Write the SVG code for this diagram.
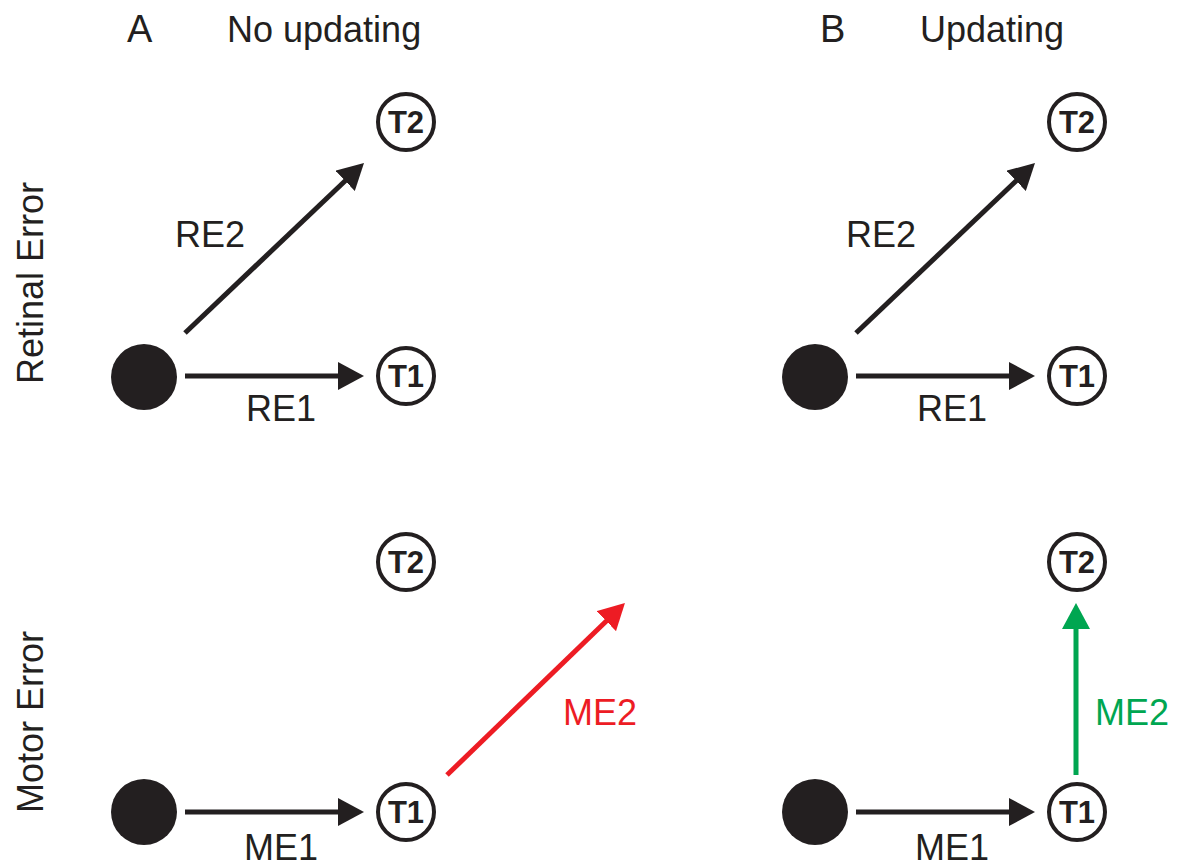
<svg xmlns="http://www.w3.org/2000/svg" width="1186" height="867" viewBox="0 0 1186 867">
<style>
text{font-family:"Liberation Sans",Arial,sans-serif;fill:#231f20}
.lbl{font-size:36px}
text.t{font-size:31px;font-weight:bold;text-anchor:middle}
.tgt{fill:#fff;stroke:#231f20;stroke-width:4}
.dot{fill:#231f20}
.ln{stroke-width:5;fill:none}
</style>
<defs>
<marker id="ak" markerUnits="userSpaceOnUse" viewBox="0 -14 26 28" markerWidth="26" markerHeight="28" refX="2" refY="0" orient="auto"><path d="M0,-14 L26,0 L0,14 Z" fill="#231f20"/></marker>
<marker id="ar" markerUnits="userSpaceOnUse" viewBox="0 -14 26 28" markerWidth="26" markerHeight="28" refX="2" refY="0" orient="auto"><path d="M0,-14 L26,0 L0,14 Z" fill="#ed1c24"/></marker>
<marker id="ag" markerUnits="userSpaceOnUse" viewBox="0 -14 26 28" markerWidth="26" markerHeight="28" refX="2" refY="0" orient="auto"><path d="M0,-14 L26,0 L0,14 Z" fill="#00a651"/></marker>
</defs>
<g id="titles">
<text class="lbl" x="127" y="42" style="font-size:38px">A</text>
<text class="lbl" x="227" y="42">No updating</text>
<text class="lbl" x="820" y="42" style="font-size:38px">B</text>
<text class="lbl" x="920" y="42">Updating</text>
<text class="lbl" transform="translate(43,283) rotate(-90)" text-anchor="middle">Retinal Error</text>
<text class="lbl" transform="translate(43,722) rotate(-90)" text-anchor="middle">Motor Error</text>
</g>
<g id="connectors">
<line class="ln" x1="185" y1="376" x2="340" y2="376" stroke="#231f20" marker-end="url(#ak)"/>
<line class="ln" x1="185" y1="333" x2="346.6" y2="179.5" stroke="#231f20" marker-end="url(#ak)"/>
<line class="ln" x1="856" y1="376" x2="1011" y2="376" stroke="#231f20" marker-end="url(#ak)"/>
<line class="ln" x1="856" y1="333" x2="1017.6" y2="179.5" stroke="#231f20" marker-end="url(#ak)"/>
<line class="ln" x1="185" y1="812" x2="340" y2="812" stroke="#231f20" marker-end="url(#ak)"/>
<line class="ln" x1="856" y1="812" x2="1011" y2="812" stroke="#231f20" marker-end="url(#ak)"/>
<line class="ln" x1="447" y1="775" x2="607.7" y2="619.7" stroke="#ed1c24" marker-end="url(#ar)"/>
<line class="ln" x1="1076" y1="775" x2="1076" y2="627" stroke="#00a651" marker-end="url(#ag)"/>
<text class="lbl" x="175" y="247">RE2</text>
<text class="lbl" x="246" y="421">RE1</text>
<text class="lbl" x="846" y="247">RE2</text>
<text class="lbl" x="917" y="421">RE1</text>
<text class="lbl" x="244" y="860">ME1</text>
<text class="lbl" x="915" y="860">ME1</text>
<text class="lbl" x="563" y="725" style="fill:#ed1c24">ME2</text>
<text class="lbl" x="1095" y="725" style="fill:#00a651">ME2</text>
</g>
<g id="fixA1"><circle class="dot" cx="144" cy="377" r="33"/></g>
<g id="T1A1"><circle class="tgt" cx="406" cy="376" r="28"/><text class="t" x="406" y="387">T1</text></g>
<g id="T2A1"><circle class="tgt" cx="406" cy="122" r="28"/><text class="t" x="406" y="133">T2</text></g>
<g id="fixB1"><circle class="dot" cx="815" cy="377" r="33"/></g>
<g id="T1B1"><circle class="tgt" cx="1077" cy="376" r="28"/><text class="t" x="1077" y="387">T1</text></g>
<g id="T2B1"><circle class="tgt" cx="1077" cy="122" r="28"/><text class="t" x="1077" y="133">T2</text></g>
<g id="fixA2"><circle class="dot" cx="144" cy="812" r="33"/></g>
<g id="T1A2"><circle class="tgt" cx="406" cy="812" r="28"/><text class="t" x="406" y="823">T1</text></g>
<g id="T2A2"><circle class="tgt" cx="406" cy="562" r="28"/><text class="t" x="406" y="573">T2</text></g>
<g id="fixB2"><circle class="dot" cx="815" cy="812" r="33"/></g>
<g id="T1B2"><circle class="tgt" cx="1077" cy="812" r="28"/><text class="t" x="1077" y="823">T1</text></g>
<g id="T2B2"><circle class="tgt" cx="1077" cy="562" r="28"/><text class="t" x="1077" y="573">T2</text></g>
</svg>
